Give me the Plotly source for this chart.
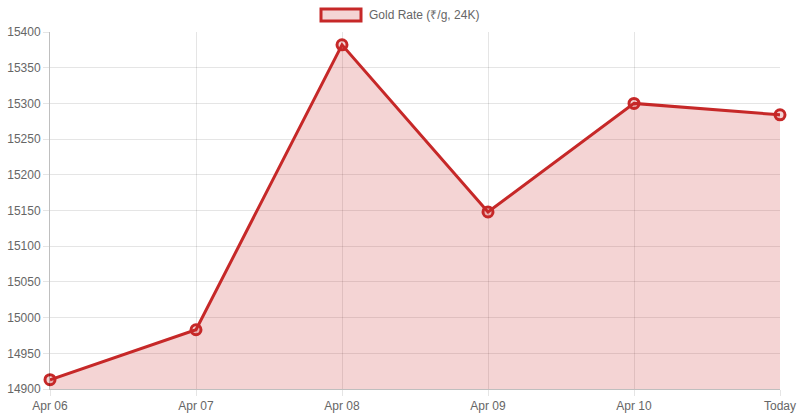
import plotly.graph_objects as go

labels = ["Apr 06", "Apr 07", "Apr 08", "Apr 09", "Apr 10", "Today"]
rates = [14913, 14983, 15382, 15148, 15300, 15284]
series_name = "Gold Rate (₹/g, 24K)"
y_ticks = list(range(14900, 15401, 50))

line_color = "rgb(198,40,40)"
fill_color = "rgba(198,40,40,0.2)"

fig = go.Figure()
fig.add_trace(go.Scatter(
    x=list(range(len(labels))), y=rates, mode="lines+markers",
    line=dict(color=line_color, width=3),
    fill="tozeroy", fillcolor=fill_color,
    marker=dict(size=10, color="rgba(198,40,40,0.2)", line=dict(color=line_color, width=3)),
    name=series_name, showlegend=False, cliponaxis=False,
))

fig.update_layout(
    width=800, height=420,
    margin=dict(l=50, r=20, t=32, b=31),
    paper_bgcolor="white", plot_bgcolor="white",
    font=dict(family="Liberation Sans, Arial, sans-serif", size=12, color="#666"),
    xaxis=dict(
        range=[0, len(labels) - 1], tickmode="array",
        tickvals=list(range(len(labels))), ticktext=labels,
        showgrid=True, gridcolor="rgba(0,0,0,0.1)", gridwidth=1,
        ticks="outside", ticklen=6, tickcolor="rgba(0,0,0,0.1)",
        showline=True, linecolor="rgba(0,0,0,0.25)", linewidth=1,
        zeroline=False, fixedrange=True, automargin=False,
    ),
    yaxis=dict(
        range=[14900, 15400], tickmode="array", tickvals=y_ticks,
        ticktext=[str(v) for v in y_ticks],
        showgrid=True, gridcolor="rgba(0,0,0,0.1)", gridwidth=1,
        ticks="outside", ticklen=6, tickcolor="rgba(0,0,0,0.1)",
        showline=True, linecolor="rgba(0,0,0,0.25)", linewidth=1,
        zeroline=False, fixedrange=True, automargin=False,
    ),
    shapes=[dict(
        type="rect", xref="paper", yref="paper",
        x0=(321 - 50) / 730, x1=(361 - 50) / 730,
        y0=(420 - 31 - 21) / 357, y1=(420 - 31 - 9) / 357,
        line=dict(color=line_color, width=3), fillcolor=fill_color,
    )],
    annotations=[dict(
        text=series_name, xref="paper", yref="paper",
        x=(367 - 50) / 730, y=(420 - 31 - 15) / 357,
        xanchor="left", yanchor="middle", showarrow=False,
        font=dict(size=12, color="#666"),
    )],
)

fig.write_html(
    "out.html",
    config={"displayModeBar": False},
    post_script="document.body.style.margin='0';document.body.style.overflow='hidden';",
)
